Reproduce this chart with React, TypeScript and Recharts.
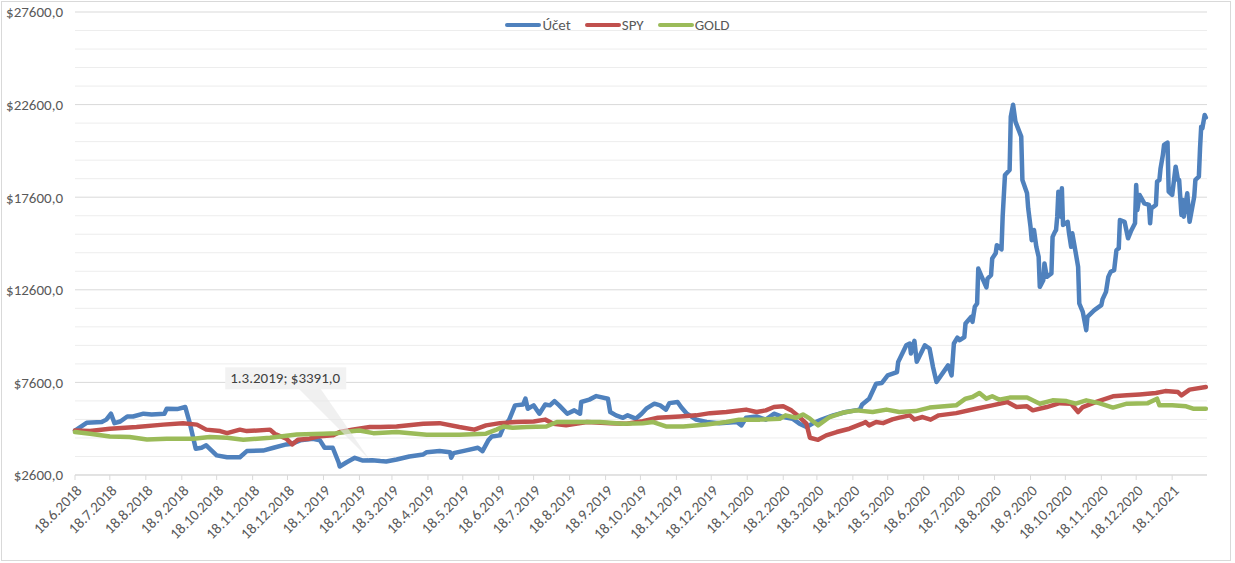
import React from "react";
import {
  LineChart, Line, XAxis, YAxis, ReferenceLine, ReferenceDot,
} from "recharts";

// day offsets are counted from 18.6.2018
const START = Date.UTC(2018, 5, 18);
const DAY = 86400000;

const accountDays = [
  0, 10, 23, 27, 31, 34, 39, 45, 50, 59, 66, 77, 79, 88, 95, 99, 104, 109, 113, 122,
  131, 142, 148, 162, 171, 182, 187, 194, 205, 211, 215, 222, 227, 228, 234, 241, 248, 256, 263, 268,
  277, 288, 300, 303, 314, 323, 324, 326, 337, 347, 351, 356, 359, 366, 369, 374, 379, 386, 388, 390,
  395, 400, 405, 409, 413, 417, 424, 430, 435, 436, 443, 449, 459, 461, 466, 472, 476, 483, 488, 492,
  499, 504, 509, 512, 519, 522, 527, 535, 544, 555, 570, 574, 578, 587, 595, 602, 610, 618, 624, 630,
  636, 643, 653, 664, 676, 678, 684, 690, 695, 700, 708, 709, 716, 719, 720, 723, 725, 732, 736, 739,
  742, 752, 755, 757, 760, 762, 766, 767, 772, 773, 775, 777, 778, 781, 785, 786, 789, 790, 793, 794,
  798, 799, 801, 805, 806, 808, 810, 815, 816, 820, 821, 823, 824, 826, 828, 830, 831, 834, 835, 837,
  841, 842, 844, 845, 846, 847, 849, 850, 851, 855, 856, 858, 859, 862, 864, 865, 868, 871, 872, 878,
  884, 885, 888, 890, 892, 895, 897, 899, 900, 904, 907, 910, 913, 914, 915, 917, 921, 925, 926, 927,
  931, 932, 934, 935, 937, 938, 941, 942, 945, 948, 950, 951, 953, 954, 955, 958, 960, 964, 965, 968,
  969, 970, 971, 973, 974,
];
const accountValues = [
  5000, 5420, 5460, 5590, 5910, 5400, 5490, 5760, 5760, 5910, 5870, 5910, 6180, 6160, 6270, 5370, 4020, 4070, 4200, 3660,
  3560, 3560, 3890, 3920, 4070, 4250, 4290, 4470, 4560, 4470, 4070, 4070, 3290, 3060, 3290, 3530, 3380, 3391, 3350, 3330,
  3440, 3600, 3710, 3830, 3890, 3830, 3530, 3780, 3930, 4070, 3890, 4470, 4680, 4740, 5190, 5590, 6360, 6410, 6720, 6180,
  6360, 5910, 6410, 6360, 6590, 6360, 5910, 6090, 5910, 6540, 6670, 6860, 6720, 6000, 5820, 5690, 5820, 5640, 5910, 6180,
  6450, 6360, 6130, 6480, 6540, 6270, 5910, 5590, 5460, 5400, 5460, 5280, 5690, 5760, 5590, 5910, 5730, 5640, 5370, 5190,
  5400, 5590, 5820, 6000, 6130, 6410, 6720, 7530, 7570, 7980, 8160, 8700, 9600, 9700, 9160, 9840, 8710, 9600, 9430, 8430,
  7620, 8520, 7980, 9700, 10020, 9880, 10050, 10780, 11140, 10870, 11680, 11860, 13750, 13300, 12730, 13210, 13390, 14290, 14570, 15010,
  14780, 16550, 18800, 19070, 21950, 22590, 21680, 20870, 18530, 17810, 17000, 16000, 15280, 15830, 14920, 14380, 12760, 13120, 14020, 13300,
  13480, 15460, 15730, 15830, 16550, 17900, 16550, 18080, 16100, 16270, 15730, 14920, 15650, 14570, 13840, 11860, 11410, 10420, 11140, 11500,
  11770, 12080, 12490, 13300, 13570, 13660, 14740, 14840, 16370, 16270, 15380, 15830, 16190, 18260, 16910, 17720, 17270, 17180, 16190, 17000,
  17180, 18440, 18530, 19160, 19880, 20420, 20550, 17900, 17720, 19250, 18530, 18530, 16640, 17450, 16550, 17810, 16270, 17630, 18530, 18710,
  20240, 21410, 21320, 22040, 21900,
];

const spyDays = [
  0, 13, 30, 53, 76, 93, 105, 113, 125, 131, 142, 148, 168, 172, 182, 187, 192, 202, 209, 222,
  228, 240, 254, 263, 277, 300, 314, 331, 344, 354, 366, 380, 395, 405, 412, 423, 441, 461, 475, 489,
  502, 521, 535, 547, 561, 578, 587, 595, 602, 610, 617, 624, 630, 633, 640, 647, 656, 667, 678, 681,
  684, 690, 696, 704, 710, 719, 723, 730, 737, 744, 759, 776, 790, 803, 811, 820, 825, 837, 848, 858,
  864, 868, 879, 894, 906, 917, 931, 939, 950, 953, 960, 974,
];
const spyValues = [
  5000, 4970, 5100, 5190, 5320, 5400, 5320, 5050, 4970, 4860, 5050, 4970, 5050, 4830, 4560, 4250, 4500, 4560, 4680, 4740,
  4920, 5060, 5190, 5190, 5220, 5370, 5400, 5190, 5050, 5280, 5400, 5460, 5490, 5590, 5370, 5280, 5460, 5400, 5370, 5510,
  5690, 5760, 5820, 5940, 6000, 6130, 6000, 6090, 6270, 6310, 6090, 5730, 5370, 4610, 4500, 4740, 4920, 5100, 5370, 5460,
  5280, 5460, 5400, 5600, 5700, 5820, 5600, 5730, 5590, 5820, 5940, 6180, 6360, 6540, 6270, 6310, 6090, 6270, 6480, 6450,
  6000, 6270, 6540, 6850, 6900, 6950, 7030, 7130, 7080, 6900, 7210, 7350,
];

const goldDays = [
  0, 13, 30, 47, 62, 79, 102, 116, 131, 145, 168, 191, 214, 225, 240, 245, 257, 277, 303, 331,
  354, 363, 369, 377, 389, 406, 415, 432, 452, 472, 489, 498, 509, 524, 544, 561, 572, 590, 607, 612,
  621, 627, 633, 640, 650, 661, 673, 687, 699, 710, 724, 736, 759, 767, 773, 779, 785, 790, 796, 805,
  820, 831, 842, 854, 862, 871, 882, 894, 906, 924, 932, 934, 945, 957, 963, 974,
];
const goldValues = [
  4920, 4830, 4680, 4650, 4520, 4560, 4560, 4650, 4610, 4500, 4610, 4790, 4830, 4860, 4970, 5000, 4860, 4920, 4770, 4770,
  4830, 5050, 5220, 5150, 5190, 5220, 5460, 5460, 5460, 5370, 5400, 5460, 5220, 5220, 5330, 5460, 5590, 5590, 5640, 5820,
  5690, 5870, 5640, 5280, 5730, 5960, 6090, 6000, 6130, 6000, 6050, 6240, 6360, 6720, 6810, 7030, 6720, 6850, 6670, 6780,
  6780, 6450, 6630, 6590, 6450, 6630, 6480, 6240, 6450, 6480, 6720, 6360, 6360, 6310, 6180, 6180,
];

const yTicks = [2600, 7600, 12600, 17600, 22600, 27600];
const minorGrid = Array.from({ length: 26 }, (_, i) => 2600 + i * 1000).filter((v) => !yTicks.includes(v));

// a tick on the 18th of every month
const monthTicks = Array.from({ length: 32 }, (_, i) => (Date.UTC(2018, 5 + i, 18) - START) / DAY);

const callout = { label: "1.3.2019", day: 256, value: 3391 };

const FONT = "Carlito, Calibri, 'Liberation Sans', Arial, sans-serif";
const BLUE = "#4f81bd";
const RED = "#c0504d";
const GREEN = "#9bbb59";

const zip = (days: number[], values: number[]) => days.map((d, i) => ({ day: d, value: values[i] }));
const accountData = zip(accountDays, accountValues);
const spyData = zip(spyDays, spyValues);
const goldData = zip(goldDays, goldValues);

const fmtDate = (d: number) => {
  const dt = new Date(START + d * DAY);
  return `${dt.getUTCDate()}.${dt.getUTCMonth() + 1}.${dt.getUTCFullYear()}`;
};
const fmtMoney = (v: number) => `$${v.toFixed(1).replace(".", ",")}`;

const DateTick = (props: any) => {
  const { x, y, payload } = props;
  return (
    <text
      x={x + 4}
      y={y + 2}
      transform={`rotate(-45, ${x + 4}, ${y + 2})`}
      textAnchor="end"
      dy="0.35em"
      fill="#595959"
      fontSize={15}
      fontFamily={FONT}
    >
      {fmtDate(payload.value)}
    </text>
  );
};

const CalloutShape = (props: any) => {
  const { cx, cy } = props;
  return (
    <g>
      <polygon
        points={`${cx - 74},${cy - 72} ${cx - 52},${cy - 72} ${cx - 3},${cy - 1}`}
        fill="#e6e6e6"
        fillOpacity={0.6}
      />
      <rect x={cx - 147} y={cy - 93} width={121} height={22} fill="#f2f2f2" />
      <text x={cx - 142} y={cy - 77} fill="#404040" fontSize={15} fontFamily={FONT}>
        {`${callout.label}; ${fmtMoney(callout.value)}`}
      </text>
    </g>
  );
};

const legendItems = [
  { name: "Účet", color: BLUE },
  { name: "SPY", color: RED },
  { name: "GOLD", color: GREEN },
];

export default function App() {
  return (
    <div style={{ position: "absolute", left: 0, top: 0, width: 1235, height: 563, background: "#fff", fontFamily: FONT }}>
      <LineChart
        width={1235}
        height={563}
        margin={{ top: 12, right: 28, left: 0, bottom: 0 }}
      >
        {minorGrid.map((v) => (
          <ReferenceLine key={`m${v}`} y={v} stroke="#ededed" strokeWidth={1} />
        ))}
        {yTicks.map((v) => (
          <ReferenceLine key={`M${v}`} y={v} stroke="#d9d9d9" strokeWidth={1} />
        ))}
        <XAxis
          dataKey="day"
          type="number"
          domain={[0, 975]}
          ticks={monthTicks}
          interval={0}
          height={88}
          axisLine={{ stroke: "#d9d9d9" }}
          tickLine={{ stroke: "#d9d9d9" }}
          tickSize={5}
          tickMargin={6}
          tick={<DateTick />}
          allowDuplicatedCategory={false}
        />
        <YAxis
          type="number"
          domain={[2600, 27600]}
          ticks={yTicks}
          width={75}
          axisLine={false}
          tickLine={false}
          tickSize={0}
          tickMargin={12}
          tickFormatter={fmtMoney}
          tick={{ fill: "#595959", fontSize: 15, fontFamily: FONT }}
        />
        <Line data={accountData} dataKey="value" name="Účet" type="linear" stroke={BLUE} strokeWidth={4.5}
          strokeLinejoin="round" strokeLinecap="round" dot={false} isAnimationActive={false} />
        <Line data={spyData} dataKey="value" name="SPY" type="linear" stroke={RED} strokeWidth={4.5}
          strokeLinejoin="round" strokeLinecap="round" dot={false} isAnimationActive={false} />
        <Line data={goldData} dataKey="value" name="GOLD" type="linear" stroke={GREEN} strokeWidth={4.5}
          strokeLinejoin="round" strokeLinecap="round" dot={false} isAnimationActive={false} />
        <ReferenceDot x={callout.day} y={callout.value} r={0} shape={<CalloutShape />} />
      </LineChart>
      <div
        style={{
          position: "absolute", left: 0, top: 15, width: 1235, display: "flex",
          justifyContent: "center", gap: 14, fontSize: 15, color: "#595959", lineHeight: "20px",
        }}
      >
        {legendItems.map((it) => (
          <div key={it.name} style={{ display: "flex", alignItems: "center" }}>
            <span style={{ display: "inline-block", width: 36, height: 4, borderRadius: 2, background: it.color, marginRight: 1 }} />
            <span>{it.name}</span>
          </div>
        ))}
      </div>
      <div style={{ position: "absolute", left: 1, top: 1, width: 1228, height: 558, border: "1px solid #d9d9d9", pointerEvents: "none" }} />
    </div>
  );
}
